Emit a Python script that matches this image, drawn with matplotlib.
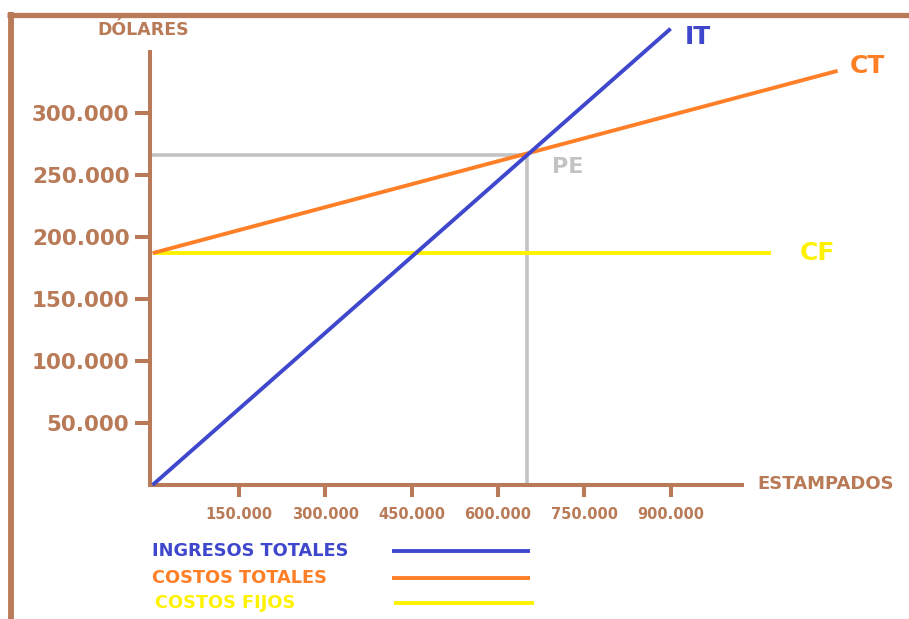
import matplotlib
matplotlib.use("Agg")
import matplotlib.pyplot as plt
from matplotlib.lines import Line2D

# ---- data -------------------------------------------------------------
x_ticks = [150000, 300000, 450000, 600000, 750000, 900000]
y_ticks = [50000, 100000, 150000, 200000, 250000, 300000]
x_tick_labels = ["150.000", "300.000", "450.000", "600.000", "750.000", "900.000"]
y_tick_labels = ["50.000", "100.000", "150.000", "200.000", "250.000", "300.000"]

it_x = [0, 900000]          # ingresos totales
it_y = [0, 368000]
ct_x = [0, 1190000]         # costos totales
ct_y = [187000, 334000]
cf_x = [0, 1075000]         # costos fijos
cf_y = [187000, 187000]
pe_x = 650000               # punto de equilibrio
pe_y = 266000

# ---- style ------------------------------------------------------------
BROWN = "#b97a57"
BLUE = "#3f48cc"
ORANGE = "#ff7f27"
YELLOW = "#fff200"
GRAY = "#c3c3c3"

plt.rcParams["font.family"] = ["DejaVu Sans"]
plt.rcParams["font.weight"] = "bold"

W, H = 909, 619
fig = plt.figure(figsize=(W / 100, H / 100), dpi=100)


def fp(x, y):
    """pixel position -> figure fraction"""
    return x / W, 1 - y / H


ax = fig.add_axes([150 / W, (H - 485) / H, 592 / W, 433 / H])
ax.set_xlim(-4500, 1024000)
ax.set_ylim(0, 349200)
ax.patch.set_alpha(0)

for side in ("top", "right"):
    ax.spines[side].set_visible(False)
for side in ("left", "bottom"):
    ax.spines[side].set_color(BROWN)
    ax.spines[side].set_linewidth(2.9)

ax.set_xticks(x_ticks)
ax.set_xticklabels(x_tick_labels, fontsize=10.5, fontweight="bold", color=BROWN)
ax.set_yticks(y_ticks)
ax.set_yticklabels(y_tick_labels, fontsize=15.5, fontweight="bold", color=BROWN)
ax.tick_params(axis="x", direction="out", length=8.6, width=2.9, color=BROWN, pad=7)
ax.tick_params(axis="y", direction="out", length=10.8, width=2.9, color=BROWN, pad=4)

# break-even guides
ax.plot([ax.get_xlim()[0], pe_x], [pe_y, pe_y], color=GRAY, lw=2.6, clip_on=False,
        solid_capstyle="butt", zorder=2)
ax.plot([pe_x, pe_x], [pe_y, 0], color=GRAY, lw=2.6, clip_on=False,
        solid_capstyle="butt", zorder=2)

# series
ax.plot(cf_x, cf_y, color=YELLOW, lw=2.8, clip_on=False, solid_capstyle="butt", zorder=3)
ax.plot(ct_x, ct_y, color=ORANGE, lw=2.8, clip_on=False, solid_capstyle="butt", zorder=4)
ax.plot(it_x, it_y, color=BLUE, lw=2.8, clip_on=False, solid_capstyle="butt", zorder=5)

# line labels
fig.text(*fp(685, 37), "IT", color=BLUE, fontsize=18, fontweight="bold", ha="left", va="center")
fig.text(*fp(850, 66), "CT", color=ORANGE, fontsize=18, fontweight="bold", ha="left", va="center")
fig.text(*fp(800, 253), "CF", color=YELLOW, fontsize=18, fontweight="bold", ha="left", va="center")
fig.text(*fp(552, 167), "PE", color=GRAY, fontsize=16, fontweight="bold", ha="left", va="center")

# axis titles
fig.text(*fp(143, 30), "DÓLARES", color=BROWN, fontsize=12.5, fontweight="bold", ha="center", va="center")
fig.text(*fp(757, 484), "ESTAMPADOS", color=BROWN, fontsize=13, fontweight="bold", ha="left", va="center")

# legend
legend_rows = [
    ("INGRESOS TOTALES", BLUE, 551, 152, 392, 530),
    ("COSTOS TOTALES", ORANGE, 578, 152, 392, 530),
    ("COSTOS FIJOS", YELLOW, 603, 155, 394, 534),
]
for label, col, y, tx, x0, x1 in legend_rows:
    fig.text(*fp(tx, y), label, color=col, fontsize=12.8, fontweight="bold", ha="left", va="center")
    fig.add_artist(Line2D([x0 / W, x1 / W], [1 - y / H] * 2, transform=fig.transFigure,
                          color=col, lw=2.8, solid_capstyle="butt"))

# outer frame
fig.add_artist(Line2D([7 / W, 1], [1 - 14.5 / H] * 2, transform=fig.transFigure,
                      color=BROWN, lw=3.8, solid_capstyle="butt"))
fig.add_artist(Line2D([11 / W, 11 / W], [0, 1 - 12 / H], transform=fig.transFigure,
                      color=BROWN, lw=4.2, solid_capstyle="butt"))

fig.savefig("out.png", dpi=100)
